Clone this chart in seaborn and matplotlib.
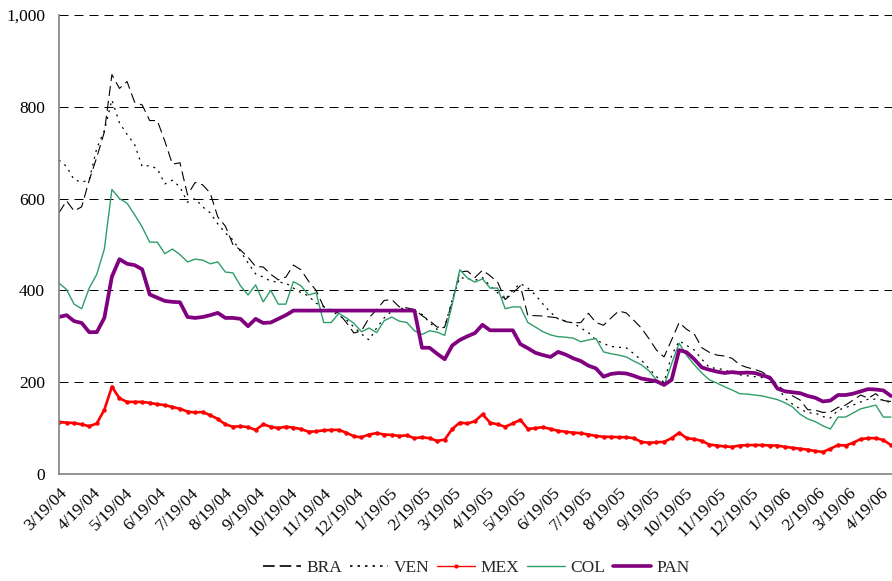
import pandas as pd
import numpy as np
import matplotlib
matplotlib.use('Agg')
import matplotlib.pyplot as plt
import matplotlib.dates as mdates
import matplotlib.ticker as mticker
from matplotlib.lines import Line2D
import seaborn as sns

#-----------------------------------------------------------------------
# data (weekly readings, 3/19/04 .. 4/28/06)
#-----------------------------------------------------------------------
start_date = '2004-03-19'
n_weeks = 111

bra = [569, 595, 573, 582, 640, 690, 745, 870, 840, 855,
       810, 804, 770, 770, 725, 675, 678, 608, 635, 630,
       612, 560, 540, 500, 488, 472, 452, 451, 435, 423,
       429, 455, 445, 420, 400, 364, 358, 350, 330, 307,
       312, 340, 358, 378, 380, 364, 362, 358, 345, 334,
       320, 320, 375, 440, 442, 428, 444, 432, 418, 380,
       394, 410, 345, 345, 344, 342, 340, 332, 329, 330,
       350, 330, 324, 340, 355, 351, 335, 318, 295, 270,
       255, 292, 330, 315, 305, 275, 265, 259, 257, 252,
       238, 232, 228, 222, 212, 194, 180, 170, 161, 140,
       139, 134, 135, 145, 150, 161, 172, 165, 175, 160,
       158]

ven = [684, 670, 641, 636, 640, 710, 748, 815, 765, 740,
       718, 670, 672, 665, 632, 640, 625, 592, 600, 582,
       569, 545, 525, 510, 485, 460, 436, 429, 420, 418,
       416, 405, 395, 388, 372, 365, 356, 345, 336, 320,
       305, 292, 318, 340, 355, 362, 358, 355, 348, 330,
       315, 320, 380, 428, 425, 422, 428, 410, 395, 380,
       400, 415, 405, 390, 370, 352, 338, 333, 329, 318,
       308, 292, 284, 278, 276, 275, 262, 248, 230, 212,
       200, 258, 290, 280, 270, 250, 232, 230, 227, 220,
       216, 214, 212, 210, 207, 190, 165, 152, 142, 133,
       133, 125, 122, 139, 145, 150, 157, 163, 163, 161,
       155]

mex = [113, 112, 111, 108, 104, 110, 140, 190, 165, 157,
       157, 157, 155, 152, 150, 146, 142, 136, 134, 135,
       128, 120, 108, 103, 104, 102, 96, 108, 103, 100,
       103, 101, 98, 92, 93, 95, 96, 96, 90, 82,
       80, 86, 89, 86, 85, 83, 84, 78, 80, 78,
       72, 75, 98, 112, 110, 115, 130, 112, 108, 103,
       110, 118, 98, 100, 102, 98, 94, 92, 90, 89,
       86, 83, 81, 81, 80, 80, 78, 70, 68, 69,
       70, 78, 90, 78, 76, 72, 64, 62, 60, 59,
       62, 63, 63, 63, 62, 62, 59, 57, 55, 53,
       50, 48, 55, 63, 62, 68, 76, 78, 78, 74,
       63]

col = [416, 402, 370, 360, 405, 435, 490, 620, 600, 590,
       565, 538, 505, 505, 480, 490, 478, 462, 468, 466,
       458, 462, 440, 438, 410, 390, 412, 375, 400, 370,
       370, 419, 410, 390, 395, 330, 330, 350, 340, 328,
       310, 318, 308, 334, 342, 333, 330, 312, 304, 312,
       309, 302, 370, 445, 427, 418, 425, 405, 405, 360,
       364, 364, 330, 320, 310, 303, 299, 298, 296, 288,
       292, 295, 266, 262, 259, 255, 246, 238, 225, 205,
       192, 240, 285, 258, 238, 220, 205, 198, 190, 183,
       175, 174, 172, 170, 166, 162, 155, 146, 130, 120,
       114, 105, 98, 124, 124, 133, 142, 146, 150, 124,
       124]

pan = [342, 346, 333, 329, 309, 309, 340, 430, 468, 458,
       455, 446, 391, 384, 377, 375, 374, 342, 340, 342,
       346, 351, 340, 340, 338, 322, 338, 329, 330, 338,
       346, 356, 356, 356, 356, 356, 356, 356, 356, 356,
       356, 356, 356, 356, 356, 356, 356, 356, 275, 275,
       262, 250, 280, 292, 300, 307, 325, 313, 313, 313,
       313, 283, 274, 264, 259, 255, 266, 260, 252, 246,
       236, 230, 212, 218, 220, 219, 214, 208, 205, 202,
       194, 205, 270, 265, 250, 232, 227, 223, 220, 222,
       220, 221, 220, 215, 210, 186, 180, 178, 176, 170,
       166, 158, 160, 172, 172, 175, 180, 185, 184, 182,
       170]

dates = pd.date_range(start_date, periods=n_weeks, freq='7D')
df = pd.DataFrame({'date': dates, 'BRA': bra, 'VEN': ven, 'MEX': mex,
                   'COL': col, 'PAN': pan})

#-----------------------------------------------------------------------
# style
#-----------------------------------------------------------------------
sns.set_style('white')
plt.rcParams['font.family'] = ['Liberation Serif', 'DejaVu Serif']
plt.rcParams['font.size'] = 12

fig = plt.figure(figsize=(8.92, 5.81), dpi=100)
ax = fig.add_axes([0.0661, 0.1842, 0.9339, 0.790])

# series styles
styles = {
    'BRA': dict(color='black', linewidth=0.8, linestyle=(0, (9, 4.5))),
    'VEN': dict(color='black', linewidth=0.9, linestyle=(0, (1.6, 4))),
    'MEX': dict(color='#ff0000', linewidth=1.9, marker='o', markersize=3.2,
                markeredgewidth=0),
    'COL': dict(color='#2e9e68', linewidth=1.0),
    'PAN': dict(color='#800080', linewidth=2.7),
}

for name in ['BRA', 'VEN', 'MEX', 'COL', 'PAN']:
    sns.lineplot(data=df, x='date', y=name, ax=ax, label=name,
                 legend=False, **styles[name])

#-----------------------------------------------------------------------
# axes
#-----------------------------------------------------------------------
ax.set_ylim(0, 1000)
ax.set_xlim(pd.Timestamp('2004-03-19'), pd.Timestamp('2006-04-29'))
ax.set_yticks([0, 200, 400, 600, 800, 1000])
ax.yaxis.set_major_formatter(mticker.StrMethodFormatter('{x:,.0f}'))

tick_dates = pd.date_range('2004-03-19', '2006-04-19', freq=pd.DateOffset(months=1))
ax.set_xticks(tick_dates)
ax.set_xticklabels([f'{d.month}/{d.day}/{d:%y}' for d in tick_dates],
                   rotation=45, ha='right', rotation_mode='anchor')

ax.set_xlabel('')
ax.set_ylabel('')
ax.yaxis.grid(True, color='black', linestyle=(0, (9, 6)), linewidth=0.72)
ax.xaxis.grid(False)
ax.set_axisbelow(True)

for s in ['top', 'right']:
    ax.spines[s].set_visible(False)
for s in ['left', 'bottom']:
    ax.spines[s].set_color('#808080')
    ax.spines[s].set_linewidth(1.2)
ax.tick_params(axis='both', direction='out', length=5, width=1,
               color='#808080', labelsize=12.5, labelcolor='black')
ax.tick_params(axis='x', pad=3)
ax.tick_params(axis='y', pad=5)

# legend
handles = [Line2D([], [], color='black', linewidth=1.2, linestyle=(0, (7, 3))),
           Line2D([], [], color='black', linewidth=1.2, linestyle=(0, (1.5, 3))),
           Line2D([], [], color='#ff0000', linewidth=1.0, marker='o',
                  markersize=3, markeredgewidth=0),
           Line2D([], [], color='#2e9e68', linewidth=1.0),
           Line2D([], [], color='#800080', linewidth=2.6)]
fig.legend(handles, ['BRA', 'VEN', 'MEX', 'COL', 'PAN'], loc='center',
           bbox_to_anchor=(0.534, 0.022), ncol=5, frameon=False,
           handlelength=2.2, handletextpad=0.3, columnspacing=0.45,
           numpoints=1, fontsize=12.5)

plt.savefig('out.png', dpi=100)
